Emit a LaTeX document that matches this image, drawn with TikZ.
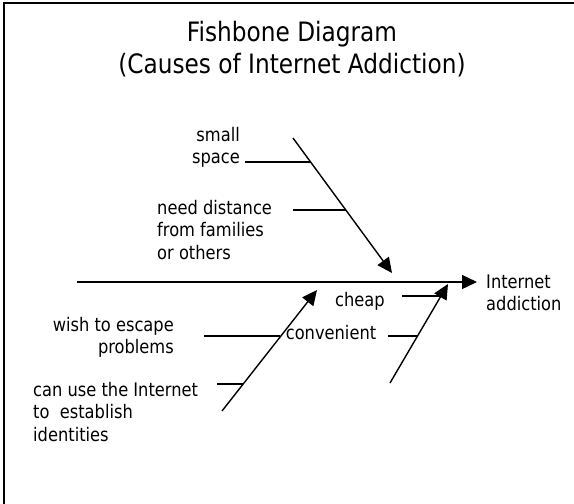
\documentclass[tikz,border=0pt]{standalone}
\usepackage{fontspec}
\setmainfont{DejaVu Sans}[FakeStretch=0.87]
\usetikzlibrary{arrows.meta}
\begin{document}
\begin{tikzpicture}[x=1pt,y=-1pt,
  bone/.style={line width=1.4pt, -{Triangle[length=15pt,width=14pt]}},
  rib/.style={line width=1.4pt},
  lbl/.style={inner sep=0pt, font=\fontsize{18.7}{22.3}\selectfont},
  ttl/.style={inner sep=0pt, align=center, font=\fontsize{26.7}{32}\selectfont}]
\useasboundingbox (0,0) rectangle (574,504);
% frame
\coordinate (fbl) at (4,505);
\coordinate (ftl) at (4,3);
\coordinate (ftr) at (575,3);
\draw[line width=1.4pt] (fbl) -- (ftl) -- (ftr);
% title
\node[ttl] (title) at (292,49) {Fishbone Diagram\\(Causes of Internet Addiction)};
% labels
\node[lbl, align=right, anchor=east] (space) at (240,147) {small\\space};
\node[lbl, align=left, anchor=west] (dist) at (157,230) {need distance\\from families\\or others};
\node[lbl, align=right, anchor=east] (wish) at (174,337) {wish to escape\\problems};
\node[lbl, align=left, anchor=west] (ident) at (33,412) {can use the Internet\\to\ \ establish\\identities};
\node[lbl] (cheap) at (360,301) {cheap};
\node[lbl] (conv) at (331,333) {convenient};
\node[lbl, align=left, anchor=west] (effect) at (486,293) {Internet\\addiction};
% spine
\coordinate (tail) at (77,282);
\coordinate (head) at (477,282);
\draw[bone] (tail) -- (head);
% upper bone
\coordinate (ub0) at (293,138);
\coordinate (ub1) at (392,273);
\draw[bone] (ub0) -- (ub1);
\coordinate (r1a) at (245,162);
\coordinate (r1b) at (310.6,162);
\draw[rib] (r1a) -- (r1b);
\coordinate (r2a) at (293,210);
\coordinate (r2b) at (346,210);
\draw[rib] (r2a) -- (r2b);
% lower left bone
\coordinate (lb0) at (222,411);
\coordinate (lb1) at (317,290);
\draw[bone] (lb0) -- (lb1);
\coordinate (r3a) at (204,336);
\coordinate (r3b) at (280,336);
\draw[rib] (r3a) -- (r3b);
\coordinate (r4a) at (217,384);
\coordinate (r4b) at (243,384);
\draw[rib] (r4a) -- (r4b);
% lower right bone
\coordinate (rb0) at (390,383);
\coordinate (rb1) at (448,284);
\draw[bone] (rb0) -- (rb1);
\coordinate (r5a) at (402,296);
\coordinate (r5b) at (441,296);
\draw[rib] (r5a) -- (r5b);
\coordinate (r6a) at (388,336);
\coordinate (r6b) at (417.5,336);
\draw[rib] (r6a) -- (r6b);
\end{tikzpicture}
\end{document}
